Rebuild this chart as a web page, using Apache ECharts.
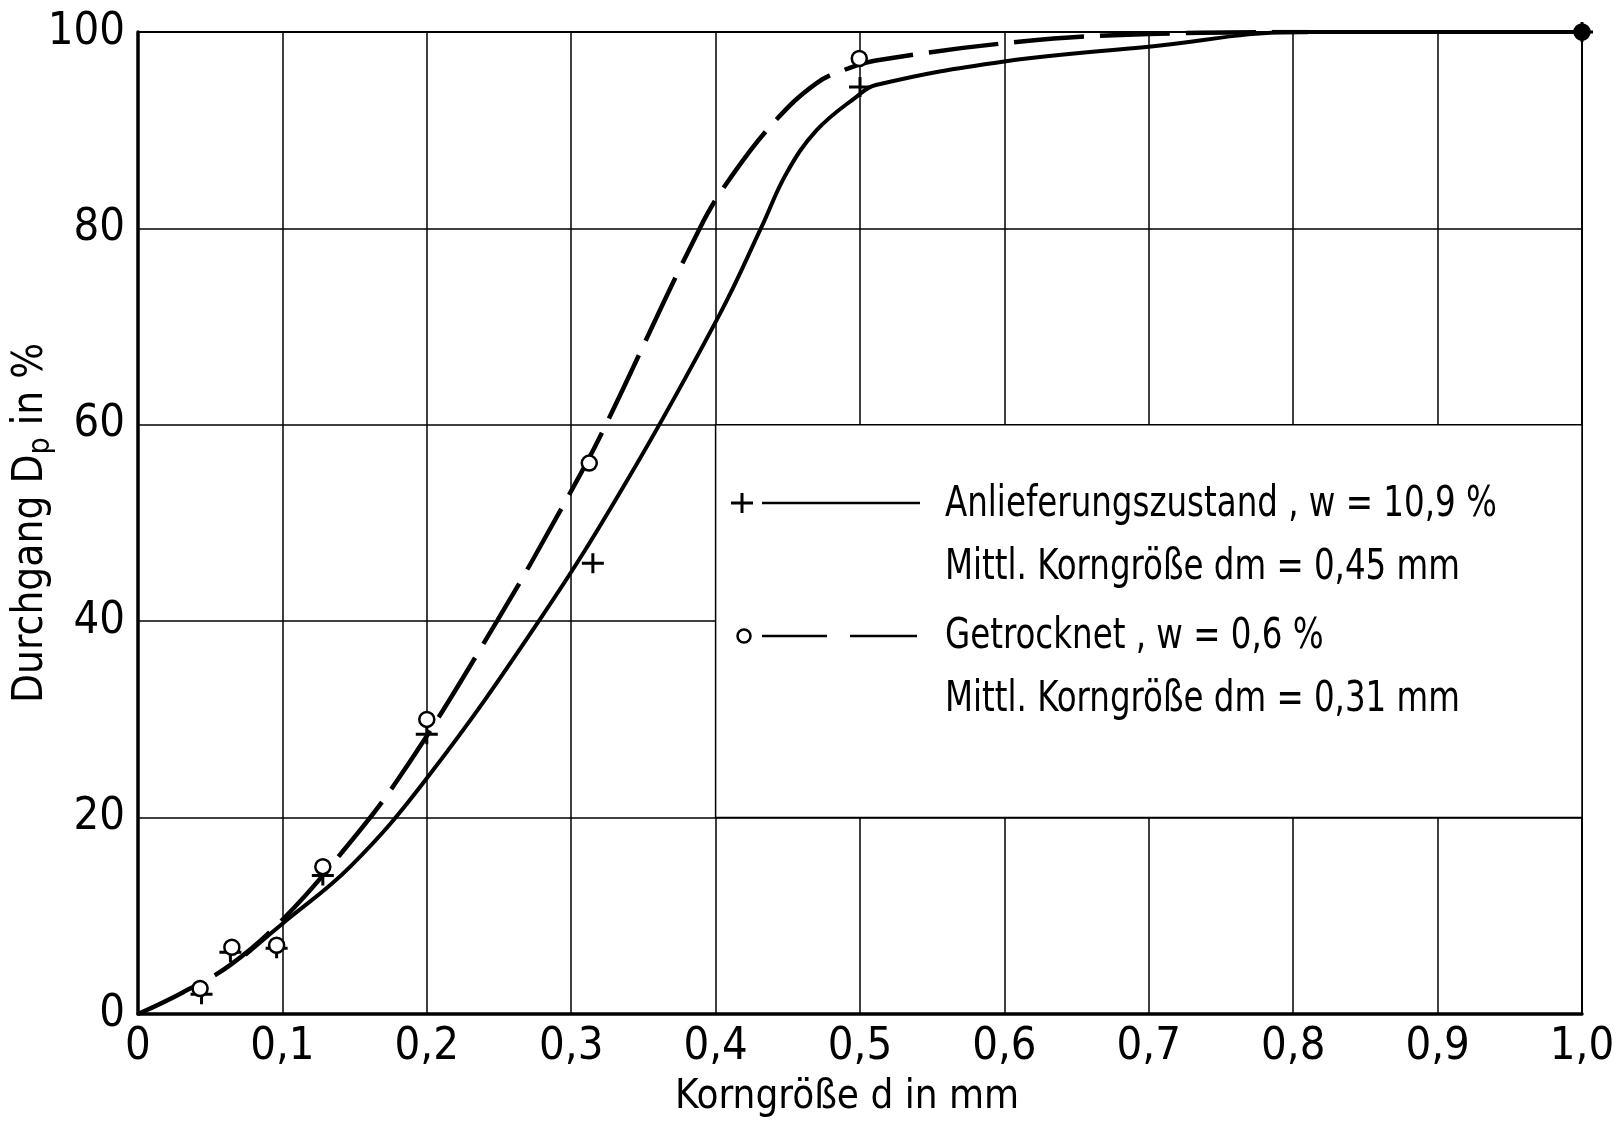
<!DOCTYPE html>
<html><head><meta charset="utf-8">
<script src="https://cdn.jsdelivr.net/npm/echarts@6/dist/echarts.min.js"></script>
<style>html,body{margin:0;padding:0;background:#fff}#c{width:1616px;height:1132px}</style>
</head><body><div id="c"></div>
<script>
// ---- data ----
const xTickLabels = ['0','0,1','0,2','0,3','0,4','0,5','0,6','0,7','0,8','0,9','1,0'];
const yTickLabels = ['0','20','40','60','80','100'];

// measured points (sieve passings)
const anlieferPoints = [[0.044,2.0],[0.064,6.3],[0.096,6.7],[0.128,14.1],[0.2,28.5],[0.315,45.9],[0.5,94.4],[1.0,100]];
const getrocknetPoints = [[0.043,2.6],[0.065,6.8],[0.096,7.0],[0.128,15.0],[0.2,30.0],[0.3125,56.1],[0.4995,97.3],[1.0,100]];

// hand-drawn curves
const anlieferCurve = [[0.075,6.1],[0.1,9.2],[0.147,15.0],[0.2,24.0],[0.278,40.1],[0.339,54.4],[0.403,71.3],[0.432,80.2],[0.449,85.6],[0.47,90.0],[0.4975,93.4],[0.511,94.6],[0.6,97.0],[0.7,98.5],[0.805,100],[1.0,100]];
const getrocknetCurve = [[0,0],[0.031,2.2],[0.064,5.0],[0.1,9.6],[0.137,15.7],[0.181,24.1],[0.249,40.1],[0.299,53.0],[0.32,58.8],[0.389,80.0],[0.411,85.3],[0.441,90.9],[0.47,94.8],[0.492,96.3],[0.511,97.1],[0.61,99.0],[0.7,99.8],[0.81,100]];

const legendLines = [
  'Anlieferungszustand , w = 10,9 %',
  'Mittl. Korngröße dm = 0,45 mm',
  'Getrocknet , w = 0,6 %',
  'Mittl. Korngröße dm = 0,31 mm'
];
const legendBox = [[0.4,20],[1.0,60]];

// ---- chart ----
const FONT = "'DejaVu Sans Condensed','Liberation Sans Narrow',sans-serif";
const chart = echarts.init(document.getElementById('c'), null, {renderer:'canvas'});
const plusPath = 'path://M-11,-1.5 L11,-1.5 L11,1.5 L-11,1.5 Z M-1.5,-10 L1.5,-10 L1.5,10 L-1.5,10 Z';

function legendText(i, y) {
  return {type:'text', x:945, y:y, scaleX:0.86, scaleY:1, z:10,
    style:{text:legendLines[i], font:"42px "+FONT, fill:'#000', textVerticalAlign:'middle'}};
}

const option = {
  animation: false,
  backgroundColor: '#fff',
  grid: {left:138, top:32, right:34, bottom:118, containLabel:false, outerBoundsMode:'none',
    show:true, borderColor:'#000', borderWidth:2, backgroundColor:'transparent'},
  xAxis: {
    type:'value', min:0, max:1, interval:0.1,
    name:'Korngröße d in mm', nameLocation:'middle', nameGap:64,
    nameTextStyle:{fontFamily:FONT, fontSize:40, color:'#000', padding:[0,26,0,0]},
    axisLine:{show:true, onZero:false, lineStyle:{color:'#000', width:3.5}},
    axisTick:{show:false},
    axisLabel:{fontFamily:FONT, fontSize:45, color:'#000', margin:11,
      formatter:v=>xTickLabels[Math.round(v*10)]},
    splitLine:{show:true, lineStyle:{color:'#000', width:1.5}}
  },
  yAxis: {
    type:'value', min:0, max:100, interval:20,
    name:'Durchgang D{sub|p} in %', nameLocation:'middle', nameGap:82, nameMoveOverlap:false,
    nameTextStyle:{fontFamily:FONT, fontSize:42, color:'#000', lineHeight:50,
      rich:{sub:{fontFamily:FONT, fontSize:30, color:'#000', lineHeight:30, verticalAlign:'bottom'}}},
    axisLine:{show:true, onZero:false, lineStyle:{color:'#000', width:3.5}},
    axisTick:{show:false},
    axisLabel:{fontFamily:FONT, fontSize:45, color:'#000', margin:13,
      formatter:v=>yTickLabels[Math.round(v/20)]},
    splitLine:{show:true, lineStyle:{color:'#000', width:1.5}}
  },
  series: [
    {
      name:'box', type:'line', data:[], z:1, silent:true,
      markArea:{silent:true, itemStyle:{color:'#fff', borderColor:'#000', borderWidth:1.5, opacity:1},
        data:[[{coord:legendBox[0]},{coord:legendBox[1]}]]}
    },
    {
      name:'Anlieferungszustand', type:'line', data:anlieferCurve, smooth:0.4,
      showSymbol:false, symbol:'none', z:3,
      lineStyle:{color:'#000', width:4, cap:'round'}
    },
    {
      name:'Getrocknet', type:'line', data:getrocknetCurve, smooth:0.4,
      showSymbol:false, symbol:'none', z:3,
      lineStyle:{color:'#000', width:4.5, type:[70,16], cap:'butt'}
    },
    {
      name:'Anlieferungszustand Messpunkte', type:'scatter', data:anlieferPoints, z:5,
      symbol:plusPath, symbolSize:[22,20], itemStyle:{color:'#000', opacity:1}
    },
    {
      name:'Getrocknet Messpunkte', type:'scatter', z:6,
      data:getrocknetPoints.map((p,i)=> i===getrocknetPoints.length-1 ? {value:p, itemStyle:{color:'#000'}} : p),
      symbol:'circle', symbolSize:15, itemStyle:{color:'#fff', borderColor:'#000', borderWidth:2.5, opacity:1}
    }
  ],
  graphic: [
    {type:'line', shape:{x1:731,y1:503,x2:753,y2:503}, style:{stroke:'#000', lineWidth:3}, z:10},
    {type:'line', shape:{x1:742,y1:493,x2:742,y2:513}, style:{stroke:'#000', lineWidth:3}, z:10},
    {type:'line', shape:{x1:762,y1:503,x2:920,y2:503}, style:{stroke:'#000', lineWidth:2.5}, z:10},
    legendText(0, 505),
    legendText(1, 568),
    {type:'circle', shape:{cx:744, cy:636, r:6.5}, style:{fill:'#fff', stroke:'#000', lineWidth:2.5}, z:10},
    {type:'line', shape:{x1:762,y1:636,x2:827,y2:636}, style:{stroke:'#000', lineWidth:2.5}, z:10},
    {type:'line', shape:{x1:850,y1:636,x2:917,y2:636}, style:{stroke:'#000', lineWidth:2.5}, z:10},
    legendText(2, 637),
    legendText(3, 700)
  ]
};
chart.setOption(option);
</script>
</body></html>
